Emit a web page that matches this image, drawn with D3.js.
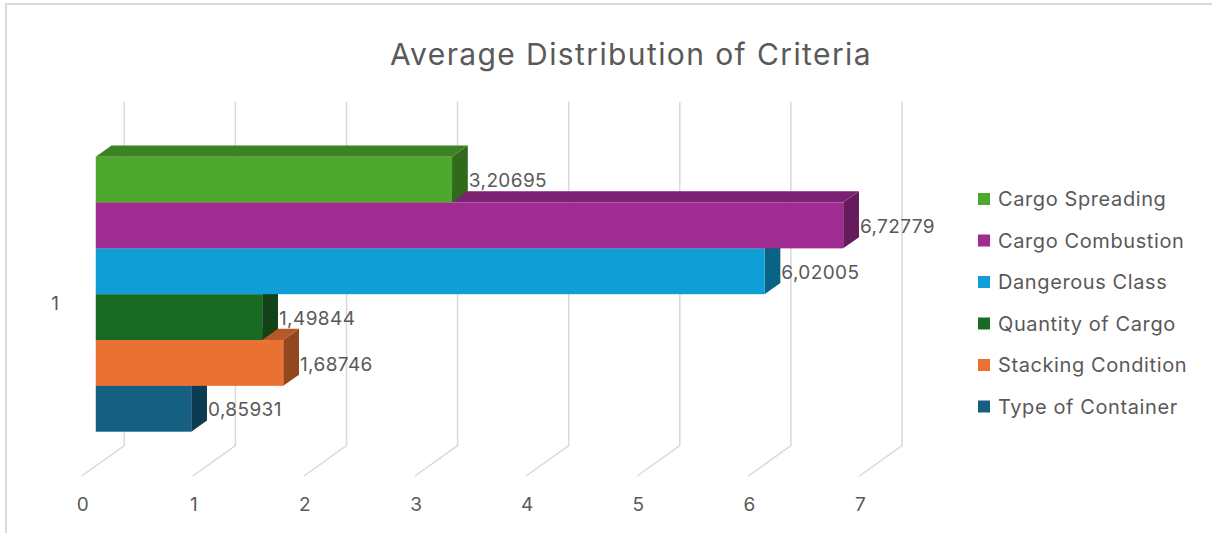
<!DOCTYPE html>
<html lang="en">
<head>
    <meta charset="UTF-8">
    <script src="https://d3js.org/d3.v7.min.js"></script>
    <title>Average Distribution of Criteria</title>
    <style>
        body { margin: 0; background: #fff; }
        text { font-family: Inter, "DejaVu Sans", sans-serif; fill: #595959; }
    </style>
</head>
<body>
    <div id="app"></div>
    <script>
        const svg_width = 1212;
        const svg_height = 533;

        // data
        const category = '1';
        const series = ['Cargo Spreading', 'Cargo Combustion', 'Dangerous Class', 'Quantity of Cargo', 'Stacking Condition', 'Type of Container'];
        const values = [3.20695, 6.72779, 6.02005, 1.49844, 1.68746, 0.85931];
        const colors = ['#4EA72E', '#A02B93', '#0F9ED5', '#196B24', '#E97132', '#156082'];
        const tick_values = [0, 1, 2, 3, 4, 5, 6, 7];

        // 3d depth: front floor edge -> back wall
        const depth_dx = 42.6;
        const depth_dy = -30.3;
        const bar_front = 0.33;   // fraction of depth where bar front face sits
        const bar_back = 0.70;

        const grid_top = 101.7;
        const floor_back_y = 445.7;

        var svg = d3.select('#app')
            .append('svg')
            .attr('width', svg_width)
            .attr('height', svg_height)

        // frame
        svg.append('path')
            .attr('d', 'M6,533 V4 H1212')
            .attr('fill', 'none')
            .attr('stroke', '#d9d9d9')
            .attr('stroke-width', 2)

        // x scale on the front floor edge
        var x_scale = d3.scaleLinear()
            .domain([0, 7])
            .range([81.7, 81.7 + 7 * 111.1])

        // y positions of the bar front faces
        var y_scale = d3.scaleBand()
            .domain(series)
            .range([156.7, 431.7])
            .padding(0)

        // gridlines (back wall vertical + floor diagonal)
        svg.selectAll('.grid')
            .data(tick_values)
            .enter()
            .append('path')
            .attr('class', 'grid')
            .attr('d', function (d) {
                var xb = x_scale(d) + depth_dx;
                return 'M' + xb + ',' + grid_top + ' V' + floor_back_y +
                    ' L' + x_scale(d) + ',' + (floor_back_y - depth_dy);
            })
            .attr('fill', 'none')
            .attr('stroke', '#d9d9d9')
            .attr('stroke-width', 1.5)

        // axis labels
        svg.selectAll('.tick')
            .data(tick_values)
            .enter()
            .append('text')
            .attr('class', 'tick')
            .attr('x', function (d) { return x_scale(d) + 1 })
            .attr('y', 504)
            .attr('dy', '0.35em')
            .style('text-anchor', 'middle')
            .style('font-size', '19px')
            .text(function (d) { return d })

        svg.append('text')
            .attr('x', 55)
            .attr('y', 303)
            .attr('dy', '0.35em')
            .style('text-anchor', 'middle')
            .style('font-size', '19px')
            .text(category)

        // bars
        var fx = bar_front * depth_dx;
        var ddx = (bar_back - bar_front) * depth_dx, ddy = (bar_back - bar_front) * depth_dy;

        var rows = series.map(function (s, i) {
            return { name: s, value: values[i], color: colors[i] };
        }).reverse();

        var bars = svg.selectAll('.bar')
            .data(rows)
            .enter()
            .append('g')
            .attr('class', 'bar')

        function pts(p) {
            return p.map(function (q) { return q.join(',') }).join(' ');
        }

        // side face
        bars.append('polygon')
            .attr('points', function (d) {
                var x1 = x_scale(d.value) + fx, y0 = y_scale(d.name), y1 = y0 + y_scale.bandwidth();
                return pts([[x1, y0], [x1 + ddx, y0 + ddy], [x1 + ddx, y1 + ddy], [x1, y1]]);
            })
            .attr('fill', function (d) { return d3.color(d.color).darker(1.3) })

        // top face
        bars.append('polygon')
            .attr('points', function (d) {
                var x0 = x_scale(0) + fx, x1 = x_scale(d.value) + fx, y0 = y_scale(d.name);
                return pts([[x0, y0], [x0 + ddx, y0 + ddy], [x1 + ddx, y0 + ddy], [x1, y0]]);
            })
            .attr('fill', function (d) { return d3.color(d.color).darker(0.7) })

        // front face
        bars.append('rect')
            .attr('x', x_scale(0) + fx)
            .attr('y', function (d) { return y_scale(d.name) })
            .attr('width', function (d) { return x_scale(d.value) - x_scale(0) })
            .attr('height', y_scale.bandwidth())
            .attr('fill', function (d) { return d.color })

        // value labels
        var locale = d3.formatLocale({ decimal: ',', thousands: '.', grouping: [3], currency: ['', ''] });
        var fmt = locale.format('.5f');

        svg.selectAll('.val')
            .data(rows)
            .enter()
            .append('text')
            .attr('class', 'val')
            .attr('x', function (d) { return x_scale(d.value) + fx + ddx + 1 })
            .attr('y', function (d) { return y_scale(d.name) + y_scale.bandwidth() / 2 + 1 })
            .attr('dy', '0.35em')
            .style('font-size', '19px')
            .style('letter-spacing', '0.4px')
            .text(function (d) { return fmt(d.value) })

        // legend
        var legend = svg.selectAll('.legend')
            .data(series)
            .enter()
            .append('g')
            .attr('class', 'legend')
            .attr('transform', function (d, i) { return 'translate(978,' + (199 + i * 41.5) + ')' })

        legend.append('rect')
            .attr('x', 0)
            .attr('y', -6)
            .attr('width', 12)
            .attr('height', 12)
            .attr('fill', function (d, i) { return colors[i] })

        legend.append('text')
            .attr('x', 20)
            .attr('dy', '0.35em')
            .style('font-size', '20px')
            .style('letter-spacing', '0.6px')
            .text(function (d) { return d })

        // title
        svg.append('text')
            .attr('x', 631)
            .attr('y', 54)
            .attr('dy', '0.35em')
            .style('text-anchor', 'middle')
            .style('font-size', '30px')
            .style('letter-spacing', '1.4px')
            .text('Average Distribution of Criteria')
    </script>
</body>
</html>
